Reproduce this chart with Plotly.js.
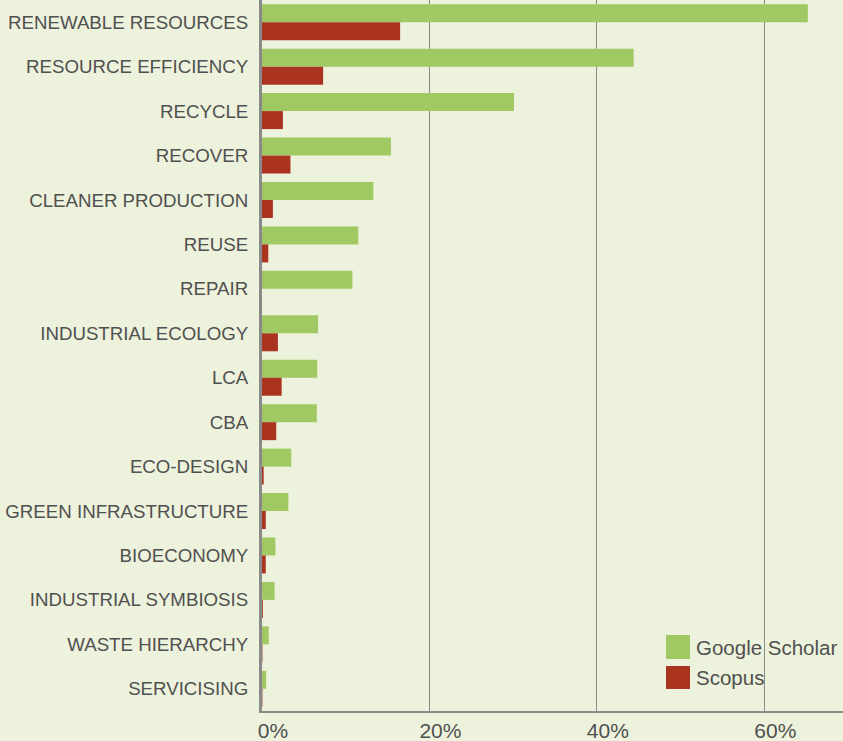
<!DOCTYPE html>
<html>
<head>
<meta charset="utf-8">
<script src="https://cdn.plot.ly/plotly-3.0.1.min.js"></script>
<style>
  html, body { margin: 0; padding: 0; background: #EDF2DC; }
  #chart { width: 843px; height: 741px; }
</style>
</head>
<body>
<div id="chart"></div>
<script>
const categories = [
  "RENEWABLE RESOURCES", "RESOURCE EFFICIENCY", "RECYCLE", "RECOVER",
  "CLEANER PRODUCTION", "REUSE", "REPAIR", "INDUSTRIAL ECOLOGY", "LCA", "CBA",
  "ECO-DESIGN", "GREEN INFRASTRUCTURE", "BIOECONOMY", "INDUSTRIAL SYMBIOSIS",
  "WASTE HIERARCHY", "SERVICISING"
];
const googleScholar = [65.2, 44.4, 30.1, 15.4, 13.3, 11.5, 10.8, 6.7, 6.6, 6.55, 3.5, 3.15, 1.6, 1.5, 0.8, 0.5];
const scopus = [16.5, 7.3, 2.5, 3.4, 1.3, 0.75, 0, 1.9, 2.35, 1.7, 0.2, 0.45, 0.45, 0.1, 0.05, 0.05];
const seriesNames = ["Google Scholar", "Scopus"];
const xTicks = [0, 20, 40, 60];

const green = "#A1C963";
const red = "#AA341F";
const txt = "#505050";

const traces = [
  { type: "bar", orientation: "h", name: seriesNames[0], y: categories, x: googleScholar,
    marker: { color: green }, showlegend: false, hoverinfo: "x+y" },
  { type: "bar", orientation: "h", name: seriesNames[1], y: categories, x: scopus,
    marker: { color: red }, showlegend: false, hoverinfo: "x+y" }
];

const layout = {
  width: 843, height: 741,
  margin: { l: 262, r: 0, t: 0, b: 30, pad: 0 },
  paper_bgcolor: "#EDF2DC",
  plot_bgcolor: "#EDF2DC",
  font: { family: "Liberation Sans, Arial, sans-serif", color: txt, size: 18 },
  barmode: "group",
  bargap: 0.19,
  bargroupgap: 0,
  xaxis: {
    range: [0, 69.4],
    tickvals: xTicks,
    ticktext: xTicks.map(v => v + "%"),
    showgrid: true, gridcolor: "#8A8A8A", gridwidth: 1,
    zeroline: false,
    showline: true, linecolor: "#8A8A8A", linewidth: 2,
    ticks: "", tickfont: { size: 21, color: txt },
    ticklabelshift: 11,
    fixedrange: true
  },
  yaxis: {
    autorange: "reversed",
    type: "category",
    showgrid: false, zeroline: false,
    showline: true, linecolor: "#8A8A8A", linewidth: 3,
    ticks: "", ticklabelstandoff: 7,
    tickfont: { size: 18.7, color: txt },
    fixedrange: true
  },
  shapes: [
    { type: "rect", xref: "paper", yref: "paper", x0: 0.6954, x1: 0.7367, y0: 0.0731, y1: 0.1069,
      fillcolor: green, line: { width: 0 } },
    { type: "rect", xref: "paper", yref: "paper", x0: 0.6954, x1: 0.7367, y0: 0.0309, y1: 0.0633,
      fillcolor: red, line: { width: 0 } }
  ],
  annotations: [
    { xref: "paper", yref: "paper", x: 0.7435, y: 0.09, text: seriesNames[0], showarrow: false,
      xanchor: "left", yanchor: "middle", font: { size: 20.5, color: txt } },
    { xref: "paper", yref: "paper", x: 0.7435, y: 0.0471, text: seriesNames[1], showarrow: false,
      xanchor: "left", yanchor: "middle", font: { size: 20.5, color: txt } }
  ]
};

Plotly.newPlot("chart", traces, layout, { displayModeBar: false, staticPlot: true });
</script>
</body>
</html>
